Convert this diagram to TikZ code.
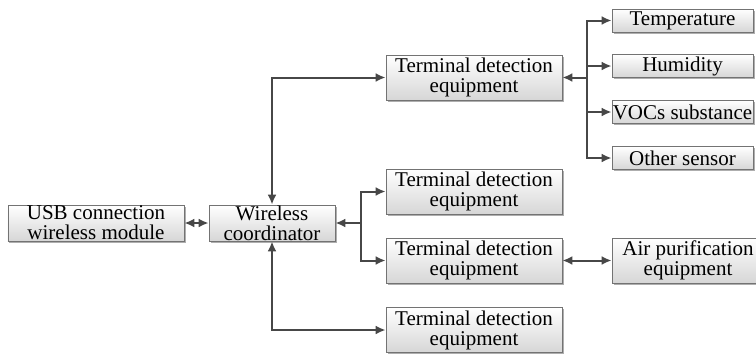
\documentclass[tikz,border=0pt]{standalone}
\usepackage{fontspec}
\setmainfont{Liberation Serif}
\usetikzlibrary{arrows.meta,shadows,calc}
\begin{document}
\begin{tikzpicture}[x=1bp,y=-1bp,
  box/.style={draw=black!55, line width=0.8bp, inner sep=0pt, align=center,
    top color=white, bottom color=black!16,
    drop shadow={shadow xshift=1.5bp, shadow yshift=-1.5bp, fill=black!45, opacity=0.7},
    font=\fontsize{21bp}{20bp}\selectfont},
  conn/.style={draw=black!72, line width=2bp},
  tip/.style={-{Latex[length=10bp,width=9bp]}},
  tips/.style={{Latex[length=10bp,width=9bp]}-{Latex[length=10bp,width=9bp]}},
]
\useasboundingbox (0,0) rectangle (756,354);

\node[box, minimum width=176bp, minimum height=36bp] (usb) at (96,223) {USB connection\\wireless module};
\node[box, minimum width=126bp, minimum height=36bp] (coord) at (272,223) {Wireless\\coordinator};

\node[box, minimum width=176bp, minimum height=45bp] (td1) at (474,77.5) {Terminal detection\\equipment};
\node[box, minimum width=176bp, minimum height=45bp] (td2) at (474,191.5) {Terminal detection\\equipment};
\node[box, minimum width=176bp, minimum height=45bp] (td3) at (474,260.5) {Terminal detection\\equipment};
\node[box, minimum width=176bp, minimum height=45bp] (td4) at (474,330) {Terminal detection\\equipment};

\node[box, minimum width=141bp, minimum height=23bp] (temp) at (682.5,20.5) {Temperature};
\node[box, minimum width=141bp, minimum height=23bp] (hum) at (682.5,66) {Humidity};
\node[box, minimum width=141bp, minimum height=23bp] (voc) at (682.5,112) {VOCs substance};
\node[box, minimum width=141bp, minimum height=23bp] (oth) at (682.5,158) {Other sensor};

\node[box, minimum width=152bp, minimum height=45bp] (air) at (688,260.5) {Air purification\\equipment};

\coordinate (j1) at (361,223);
\coordinate (j2) at (587,77.5);

\draw[conn,tips] (usb.east) -- (coord.west);
\draw[conn,tips] (coord.north) |- (td1.west);
\draw[conn,tips] (coord.south) |- (td4.west);
\draw[conn,tip] (j1) -- (coord.east);
\draw[conn,tip] (j1) |- (td2.west);
\draw[conn,tip] (j1) |- (td3.west);
\draw[conn,tip] (j2) -- (td1.east);
\draw[conn,tip] (j2) |- (temp.west);
\draw[conn,tip] (j2) |- (hum.west);
\draw[conn,tip] (j2) |- (voc.west);
\draw[conn,tip] (j2) |- (oth.west);
\draw[conn,tips] (td3.east) -- (air.west);
\end{tikzpicture}
\end{document}
